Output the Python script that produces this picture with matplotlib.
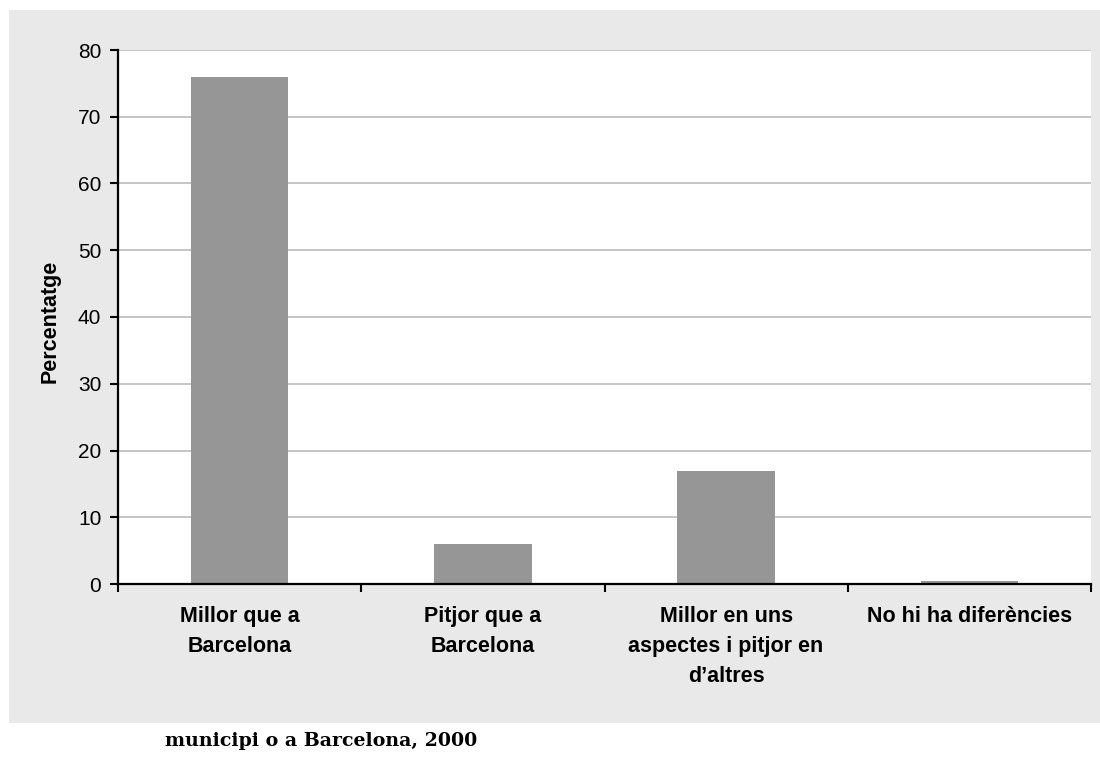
import matplotlib.pyplot as plt
from matplotlib.patches import Rectangle

categories = [
    "Millor que a\nBarcelona",
    "Pitjor que a\nBarcelona",
    "Millor en uns\naspectes i pitjor en\nd\u2019altres",
    "No hi ha diferències",
]
percentages = [76, 6, 17, 0.5]
yticks = [0, 10, 20, 30, 40, 50, 60, 70, 80]

W, H = 1100, 757
fig = plt.figure(figsize=(W / 100, H / 100), dpi=100)
fig.patch.set_facecolor("white")

# grey chart panel behind the plot area
fig.patches.append(Rectangle((9 / W, 1 - 723 / H), 1.0, (723 - 10) / H,
                             transform=fig.transFigure, facecolor="#e9e9e9",
                             edgecolor="none", zorder=-5))

ax = fig.add_axes([118 / W, 1 - 584 / H, (1091 - 118) / W, (584 - 50) / H])
ax.set_zorder(1)
ax.set_facecolor("white")

x = list(range(len(categories)))
ax.bar(x, percentages, width=0.4, color="#969696", zorder=2)

ax.set_xlim(-0.5, len(categories) - 0.5)
ax.set_ylim(0, 80)
ax.set_yticks(yticks)
ax.yaxis.grid(True, color="#c0c0c0", linewidth=1.3, zorder=1)
ax.set_axisbelow(True)

# major x ticks sit between categories, labels on minor ticks
ax.set_xticks([i - 0.5 for i in range(len(categories) + 1)])
ax.set_xticklabels([])
ax.set_xticks(x, minor=True)
ax.set_xticklabels(categories, minor=True, fontsize=15.5, fontweight="bold",
                   family="Liberation Sans", linespacing=1.57, va="top")
ax.tick_params(axis="x", which="minor", length=0, pad=16)
ax.tick_params(axis="x", which="major", direction="out", length=6, width=1.5)
ax.tick_params(axis="y", direction="out", length=6, width=1.5, pad=6,
               labelsize=15)
for lbl in ax.get_yticklabels():
    lbl.set_family("Liberation Sans")

for side in ("top", "right"):
    ax.spines[side].set_visible(False)
for side in ("left", "bottom"):
    ax.spines[side].set_linewidth(1.6)
    ax.spines[side].set_color("black")

fig.text(50 / W, 1 - 321 / H, "Percentatge", rotation=90, ha="center",
         va="center", fontsize=15.5, fontweight="bold", family="Liberation Sans")

fig.text(165 / W, 1 - 741 / H, "municipi o a Barcelona, 2000", ha="left",
         va="center", fontsize=13.7, fontweight="bold", family="DejaVu Serif")

fig.savefig("out.png", dpi=100)
